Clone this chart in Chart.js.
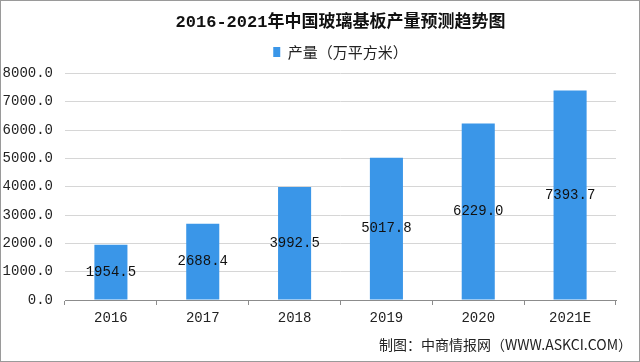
<!DOCTYPE html>
<html>
<head>
<meta charset="utf-8">
<script src="https://cdn.jsdelivr.net/npm/chart.js@4"></script>
<style>
  html, body { margin: 0; padding: 0; background: #fff; }
  #wrap { width: 640px; height: 362px; position: relative; }
</style>
</head>
<body>
<div id="wrap"><canvas id="c" width="640" height="362"></canvas></div>
<script>
// data
const years = ['2016', '2017', '2018', '2019', '2020', '2021E'];
const output = [1954.5, 2688.4, 3992.5, 5017.8, 6229.0, 7393.7];
const seriesName = '产量（万平方米）';
const titleText = '2016-2021年中国玻璃基板产量预测趋势图';
const sourceText = '制图：中商情报网（WWW.ASKCI.COM）';

const BLUE = '#3a96e8';
const NUM_FONT = '"Liberation Mono", "Noto Sans CJK SC", monospace';

// value labels in the middle of each bar
const barLabels = {
  id: 'barLabels',
  afterDatasetsDraw(chart) {
    const ctx = chart.ctx;
    const meta = chart.getDatasetMeta(0);
    ctx.save();
    ctx.font = '14px ' + NUM_FONT;
    ctx.fillStyle = '#111';
    ctx.textAlign = 'center';
    ctx.textBaseline = 'middle';
    meta.data.forEach((bar, i) => {
      const y = (bar.y + bar.base) / 2;
      ctx.fillText(output[i].toFixed(1), bar.x, y);
    });
    ctx.restore();
  }
};

// a little extra gap between legend and plot
const spacer = {
  id: 'spacer',
  start(chart) {
    Chart.layouts.addBox(chart, {
      position: 'top', weight: 500, fullSize: false, options: {},
      update(maxWidth) { this.width = maxWidth; this.height = 4; },
      isHorizontal() { return true; },
      draw() {}
    });
  }
};

// source note + frame
const frame = {
  id: 'frame',
  afterDraw(chart) {
    const ctx = chart.ctx;
    ctx.save();
    ctx.font = '14px "Noto Sans CJK SC", sans-serif';
    ctx.fillStyle = '#222';
    ctx.textAlign = 'right';
    ctx.textBaseline = 'middle';
    ctx.fillText(sourceText, 632, 345);
    ctx.strokeStyle = '#9a9a9a';
    ctx.lineWidth = 1;
    ctx.strokeRect(0.5, 0.5, chart.width - 1, chart.height - 1);
    ctx.restore();
  }
};

new Chart(document.getElementById('c'), {
  type: 'bar',
  data: {
    labels: years,
    datasets: [{
      label: seriesName,
      data: output,
      backgroundColor: BLUE,
      borderWidth: 0,
      categoryPercentage: 1,
      barPercentage: 0.36
    }]
  },
  options: {
    responsive: false,
    animation: false,
    layout: { padding: { left: 0, right: 24, top: 0, bottom: 37 } },
    scales: {
      x: {
        grid: { display: true, drawOnChartArea: false, drawTicks: true, tickLength: 5, color: '#8c8c8c', offset: true },
        border: { display: true, color: '#8c8c8c' },
        ticks: { color: '#222', font: { family: NUM_FONT, size: 14 }, padding: 5 },
        afterFit(s) { s.height = 25; }
      },
      y: {
        min: 0, max: 8000,
        ticks: { stepSize: 1000, color: '#222', font: { family: NUM_FONT, size: 14 }, padding: 12,
          callback: v => v.toFixed(1) },
        grid: { color: '#d6d6d6', drawTicks: false },
        border: { display: false },
        afterFit(s) { s.width = 65; }
      }
    },
    plugins: {
      title: {
        display: true, text: titleText, color: '#111', fullSize: false,
        font: { family: NUM_FONT, size: 17, weight: 'bold' },
        padding: { top: 13, bottom: 0 }
      },
      legend: {
        position: 'top', fullSize: false,
        labels: { boxWidth: 7, boxHeight: 10, color: '#222', padding: 11,
          font: { family: '"Noto Sans CJK SC", sans-serif', size: 15 } }
      },
      tooltip: { enabled: false }
    }
  },
  plugins: [barLabels, spacer, frame]
});
</script>
</body>
</html>
